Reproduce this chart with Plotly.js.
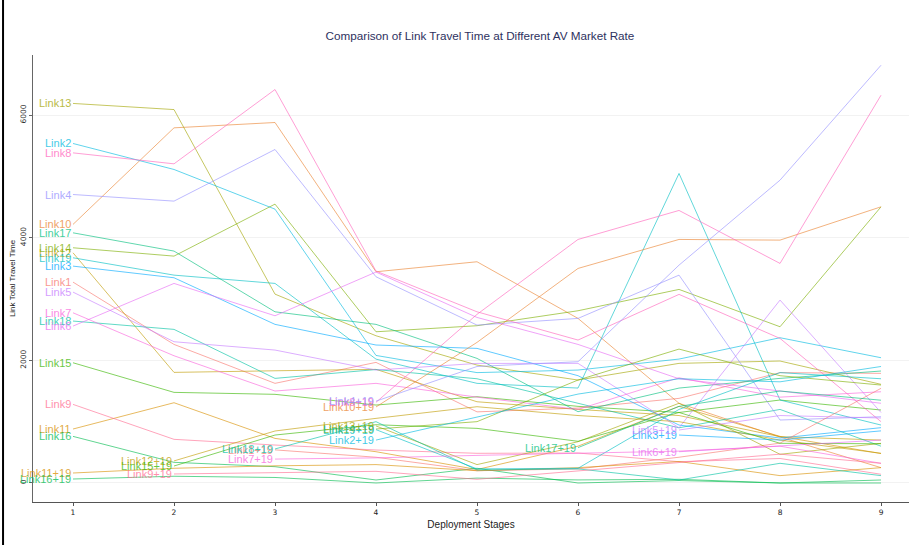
<!DOCTYPE html>
<html><head><meta charset="utf-8">
<script src="https://cdn.plot.ly/plotly-3.0.1.min.js"></script>
<style>body{margin:0;background:#fff}#c{width:909px;height:545px}</style>
</head><body><div id="c"></div>
<script>
const stages = [1,2,3,4,5,6,7,8,9];
// base links
const link1  = [3276, 2260, 1625, 1967, 1160, 1222, 1380, 1800, 1788];
const link10 = [4217, 5792, 5879, 3445, 3608, 2684, 1300, 750, 250];
const link11 = [880, 1309, 727, 510, 220, 600, 1250, 760, 480];
const link12 = [3754, 1804, 1830, 1853, 1325, 1200, 1100, 755, 700];
const link13 = [6190, 6090, 3080, 2401, 1923, 1679, 1951, 1989, 1609];
const link14 = [3836, 3700, 4548, 2466, 2565, 2809, 3157, 2548, 4504];
const link15 = [1961, 1478, 1446, 1271, 1407, 1250, 1150, 1353, 1190];
const link16 = [760, 337, 266, 49, 240, 0, 40, 0, 0];
const link17 = [4080, 3782, 2792, 2587, 2032, 1163, 1548, 1706, 1826];
const link18 = [2641, 2505, 1706, 1850, 1700, 1300, 900, 1200, 600];
const link19 = [3673, 3390, 3255, 2020, 1625, 1548, 5048, 1353, 945];
const link2  = [5537, 5113, 4466, 2080, 1800, 1842, 2021, 2369, 2043];
const link3  = [3537, 3347, 2587, 2250, 2195, 1750, 945, 733, 902];
const link4  = [4705, 4597, 5439, 3363, 2575, 2684, 3390, 1027, 1081];
const link5  = [3113, 2304, 2168, 1842, 1950, 1951, 900, 2983, 1150];
const link6  = [2559, 3255, 2727, 3440, 2700, 2260, 1700, 1500, 1300];
const link7  = [2776, 2075, 1500, 1625, 1400, 1200, 1716, 1400, 1488];
const link8  = [5384, 5205, 6417, 3456, 2792, 2331, 3076, 2358, 1000];
const link9  = [1282, 712, 619, 538, 484, 489, 347, 400, 142];
// links with link 19 added
const link1p19  = [null, null, 540, 420, 200, 230, 420, 650, 1544];
const link10p19 = [null, null, null, 1240, 2293, 3499, 3972, 3961, 4504];
const link11p19 = [163, 240, 280, 300, 200, 250, 350, 120, 250];
const link12p19 = [null, 360, 848, 1054, 1244, 1100, 1000, 700, 484];
const link13p19 = [null, null, null, 930, 300, 673, 1300, 468, 647];
const link14p19 = [null, null, null, 880, 1000, 1679, 2184, 1750, 1597];
const link15p19 = [null, 277, 782, 950, 891, 680, 1150, 647, 640];
const link16p19 = [65, 110, 90, 0, 80, 50, 60, 0, 49];
const link17p19 = [null, null, null, null, null, 576, 1250, 1500, 1350];
const link18p19 = [null, null, 555, 1000, 212, 230, 49, 321, 120];
const link19p19 = [null, null, null, 870, 230, 240, 1200, 1800, 1700];
const link2p19  = [null, null, null, 700, 1081, 1450, 1700, 1650, 1900];
const link3p19  = [null, null, null, null, null, null, 782, 700, 850];
const link4p19  = [null, null, null, 1335, 1900, 1978, 3553, 4939, 6813];
const link5p19  = [null, null, null, null, null, null, 864, 1100, 1060];
const link6p19  = [null, null, null, null, null, null, 510, 600, 700];
const link7p19  = [null, null, 390, 410, 450, 489, 520, 600, 321];
const link8p19  = [null, null, null, 1315, 2750, 3972, 4445, 3581, 6324];
const link9p19  = [null, 147, 170, 190, 60, 200, 340, 470, 321];

const colors = {
 Link1:'#F8766D', Link10:'#EA8331', Link11:'#D89000', Link12:'#C09B00', Link13:'#A3A500',
 Link14:'#7CAE00', Link15:'#39B600', Link16:'#00BB4E', Link17:'#00BF7D', Link18:'#00C1A3',
 Link19:'#00BFC4', Link2:'#00BAE0', Link3:'#00A9FF', Link4:'#9590FF', Link5:'#C77CFF',
 Link6:'#E76BF3', Link7:'#FA62DB', Link8:'#FF62BC', Link9:'#FF6C91'
};

const series = [
 ['Link1',link1,'Link1'],['Link10',link10,'Link10'],['Link11',link11,'Link11'],['Link12',link12,'Link12'],
 ['Link13',link13,'Link13'],['Link14',link14,'Link14'],['Link15',link15,'Link15'],['Link16',link16,'Link16'],
 ['Link17',link17,'Link17'],['Link18',link18,'Link18'],['Link19',link19,'Link19'],['Link2',link2,'Link2'],
 ['Link3',link3,'Link3'],['Link4',link4,'Link4'],['Link5',link5,'Link5'],['Link6',link6,'Link6'],
 ['Link7',link7,'Link7'],['Link8',link8,'Link8'],['Link9',link9,'Link9'],
 ['Link1+19',link1p19,'Link1'],['Link10+19',link10p19,'Link10'],['Link11+19',link11p19,'Link11'],
 ['Link12+19',link12p19,'Link12'],['Link13+19',link13p19,'Link13'],['Link14+19',link14p19,'Link14'],
 ['Link15+19',link15p19,'Link15'],['Link16+19',link16p19,'Link16'],['Link17+19',link17p19,'Link17'],
 ['Link18+19',link18p19,'Link18'],['Link19+19',link19p19,'Link19'],['Link2+19',link2p19,'Link2'],
 ['Link3+19',link3p19,'Link3'],['Link8+19',link8p19,'Link8'],['Link4+19',link4p19,'Link4'],
 ['Link5+19',link5p19,'Link5'],['Link6+19',link6p19,'Link6'],['Link7+19',link7p19,'Link7'],
 ['Link9+19',link9p19,'Link9']
];

const traces = series.map(([name, vals, ck]) => ({
  type:'scatter', mode:'lines', name, x:stages, y:vals,
  line:{color:colors[ck], width:1}, opacity:0.62, hoverinfo:'skip', showlegend:false
}));

const annotations = series.map(([name, vals, ck]) => {
  const i = vals.findIndex(v => v !== null);
  return {x:stages[i], y:vals[i], text:name, xref:'x', yref:'y', xanchor:'right', yanchor:'middle',
    showarrow:false, opacity:0.75, font:{family:'Liberation Sans, Arial, sans-serif', size:11, color:colors[ck]}};
});

const layout = {
  width:909, height:545,
  margin:{l:33, r:0, t:55, b:43},
  paper_bgcolor:'#ffffff', plot_bgcolor:'#ffffff',
  title:{text:'Comparison of Link Travel Time at Different AV Market Rate', x:0.528, xref:'container',
    y:0.935, yref:'container', yanchor:'middle',
    font:{family:'Liberation Sans, Arial, sans-serif', size:11.7, color:'#2e3160'}},
  xaxis:{range:[0.604, 9.277], tickvals:stages, ticktext:stages.map(String), showgrid:false, zeroline:false,
    showline:true, linecolor:'#555', linewidth:1, ticks:'outside', ticklen:3, tickcolor:'#555',
    tickfont:{family:'DejaVu Sans, sans-serif', size:7.5, color:'#222'},
    title:{text:'Deployment Stages', standoff:4, font:{family:'Liberation Sans, Arial, sans-serif', size:10, color:'#222'}}},
  yaxis:{range:[-310, 6980], tickvals:[0,2000,4000,6000], ticktext:['0','2000','4000','6000'], tickangle:-90,
    showgrid:true, gridcolor:'#f2f2f2', gridwidth:1, zeroline:false,
    showline:true, linecolor:'#666', linewidth:1, ticks:'outside', ticklen:3, tickcolor:'#666',
    tickfont:{family:'DejaVu Sans, sans-serif', size:7.5, color:'#333'},
    title:{text:'Link Total Travel Time', standoff:2, font:{family:'Liberation Sans, Arial, sans-serif', size:8, color:'#222'}}},
  annotations,
  shapes:[{type:'line', xref:'paper', yref:'paper', x0:-0.0342, x1:-0.0342, y0:-0.2, y1:1.2,
    line:{color:'#000', width:2}}]
};

Plotly.newPlot('c', traces, layout, {displayModeBar:false, staticPlot:true});
</script></body></html>
